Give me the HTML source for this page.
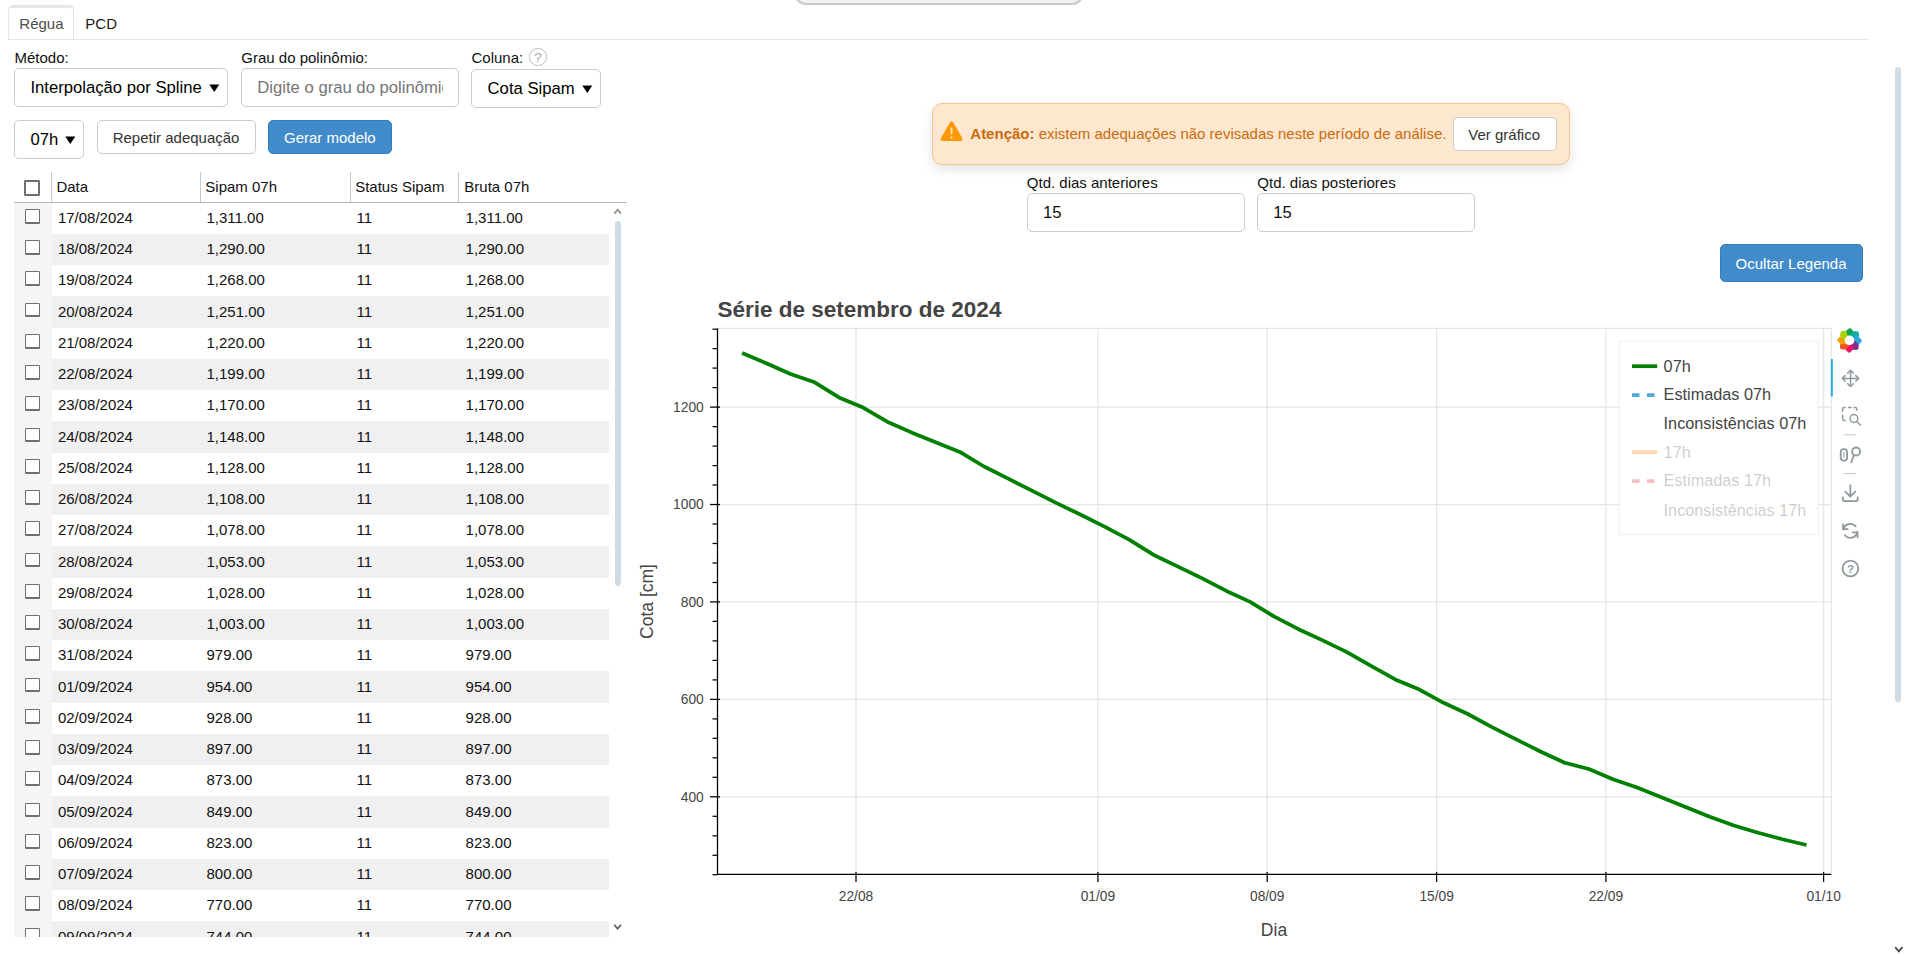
<!DOCTYPE html>
<html lang="pt-BR"><head><meta charset="utf-8"><title>Série</title>
<style>
html,body{margin:0;padding:0;background:#fff;}
body{width:1906px;height:955px;overflow:hidden;position:relative;font-family:"Liberation Sans", Arial, sans-serif;}
.t{position:absolute;white-space:nowrap;line-height:1;}
.abs{position:absolute;box-sizing:border-box;}
.box{position:absolute;box-sizing:border-box;background:#fff;border:1.25px solid #ccc;border-radius:5px;}
.cb{position:absolute;box-sizing:border-box;width:15.4px;height:14.9px;border:1.8px solid #6f6f6f;border-bottom-width:2.2px;border-radius:1.2px;background:#fff;}
svg text{font-family:"Liberation Sans", Arial, sans-serif;}
</style></head><body>

<div class="abs" style="left:793.6px;top:-20px;width:290.6px;height:25.2px;background:#f2f2f2;border:2.2px solid #c9c9cf;border-radius:12px;"></div>
<div class="abs" style="left:8px;top:38.75px;width:1861px;height:1.25px;background:#e6e6e6;"></div>
<div class="abs" style="left:8px;top:5px;width:65.8px;height:34px;border:1px solid #e6e6e6;border-top-width:3.1px;border-bottom:0;border-radius:5px 5px 0 0;background:#fff;"></div>
<div class="t" style="left:19.30px;top:15.60px;font-size:15px;color:#4d4d4d;font-weight:normal;">Régua</div>
<div class="t" style="left:85.30px;top:15.60px;font-size:15px;color:#1a1a1a;font-weight:normal;">PCD</div>
<div class="t" style="left:14.50px;top:50.30px;font-size:15px;color:#111;font-weight:normal;">Método:</div>
<div class="t" style="left:241.30px;top:50.30px;font-size:15px;color:#111;font-weight:normal;">Grau do polinômio:</div>
<div class="t" style="left:471.50px;top:50.30px;font-size:15px;color:#111;font-weight:normal;">Coluna:</div>
<div class="abs" style="left:529.2px;top:48.4px;width:17.5px;height:17.5px;border:1.9px solid #bdbdbd;border-radius:50%;"></div>
<div class="t" style="left:534.30px;top:50.87px;font-size:13.5px;color:#a8a8a8;font-weight:normal;">?</div>
<div class="box" style="left:14.2px;top:68.4px;width:213.6px;height:38.4px;"></div>
<div class="t" style="left:30.40px;top:79.99px;font-size:16.67px;color:#000;font-weight:normal;">Interpolação por Spline</div>
<svg class="abs" style="left:208.7px;top:83.8px" width="11" height="10"><path d="M0.3 0.4 L10.3 0.4 L5.3 8 Z" fill="#000"/></svg>
<div class="box" style="left:241.1px;top:68.3px;width:217.6px;height:38.4px;"></div>
<div class="abs" style="left:257px;top:72px;width:186px;height:30px;overflow:hidden;"><div class="t" style="left:0.30px;top:7.99px;font-size:16.67px;color:#757575;font-weight:normal;">Digite o grau do polinômio</div></div>
<div class="box" style="left:471.3px;top:69.4px;width:129.6px;height:38.3px;"></div>
<div class="t" style="left:487.60px;top:80.99px;font-size:16.67px;color:#000;font-weight:normal;">Cota Sipam</div>
<svg class="abs" style="left:582.2px;top:84.6px" width="11" height="10"><path d="M0.3 0.4 L10.3 0.4 L5.3 8 Z" fill="#000"/></svg>
<div class="box" style="left:14.2px;top:120.2px;width:69.4px;height:38.4px;"></div>
<div class="t" style="left:30.40px;top:131.99px;font-size:16.67px;color:#000;font-weight:normal;">07h</div>
<svg class="abs" style="left:65px;top:135.6px" width="11" height="10"><path d="M0.3 0.4 L10.3 0.4 L5.3 8 Z" fill="#000"/></svg>
<div class="box" style="left:97.3px;top:120.2px;width:158.3px;height:33.4px;"></div>
<div class="t" style="left:112.70px;top:130.30px;font-size:15px;color:#333;font-weight:normal;">Repetir adequação</div>
<div class="abs" style="left:268px;top:120px;width:123.8px;height:34px;background:#428bca;border:1.25px solid #357ebd;border-radius:5px;"></div>
<div class="t" style="left:284.00px;top:130.30px;font-size:15px;color:#fff;font-weight:normal;">Gerar modelo</div>
<div class="abs" style="left:14px;top:201.8px;width:613px;height:1.3px;background:#b9b9b9;"></div>
<div class="abs" style="left:51.2px;top:172px;width:1.25px;height:30px;background:#c8c8c8;"></div>
<div class="abs" style="left:199.8px;top:172px;width:1.25px;height:30px;background:#c8c8c8;"></div>
<div class="abs" style="left:349.9px;top:172px;width:1.25px;height:30px;background:#c8c8c8;"></div>
<div class="abs" style="left:458.2px;top:172px;width:1.25px;height:30px;background:#c8c8c8;"></div>
<div class="cb" style="left:24.2px;top:180.4px;width:15.8px;height:15.4px;border-width:2px;"></div>
<div class="t" style="left:56.40px;top:179.30px;font-size:15px;color:#111;font-weight:normal;">Data</div>
<div class="t" style="left:205.30px;top:179.30px;font-size:15px;color:#111;font-weight:normal;">Sipam 07h</div>
<div class="t" style="left:355.20px;top:179.30px;font-size:15px;color:#111;font-weight:normal;">Status Sipam</div>
<div class="t" style="left:464.30px;top:179.30px;font-size:15px;color:#111;font-weight:normal;">Bruta 07h</div>
<div class="abs" style="left:14px;top:202.7px;width:595px;height:734.3px;overflow:hidden;">
<div class="abs" style="left:0;top:0;width:37.5px;height:800px;background:#f5f5f5;"></div>
<div class="cb" style="left:11px;top:6.10px;"></div>
<div class="t" style="left:43.90px;top:7.30px;font-size:15px;color:#111;font-weight:normal;">17/08/2024</div>
<div class="t" style="left:192.50px;top:7.30px;font-size:15px;color:#111;font-weight:normal;">1,311.00</div>
<div class="t" style="left:342.50px;top:7.30px;font-size:15px;color:#111;font-weight:normal;">11</div>
<div class="t" style="left:451.60px;top:7.30px;font-size:15px;color:#111;font-weight:normal;">1,311.00</div>
<div class="abs" style="left:37.5px;top:31.25px;width:558px;height:31.25px;background:#f0f0f0;"></div>
<div class="cb" style="left:11px;top:37.35px;"></div>
<div class="t" style="left:43.90px;top:38.55px;font-size:15px;color:#111;font-weight:normal;">18/08/2024</div>
<div class="t" style="left:192.50px;top:38.55px;font-size:15px;color:#111;font-weight:normal;">1,290.00</div>
<div class="t" style="left:342.50px;top:38.55px;font-size:15px;color:#111;font-weight:normal;">11</div>
<div class="t" style="left:451.60px;top:38.55px;font-size:15px;color:#111;font-weight:normal;">1,290.00</div>
<div class="cb" style="left:11px;top:68.60px;"></div>
<div class="t" style="left:43.90px;top:69.80px;font-size:15px;color:#111;font-weight:normal;">19/08/2024</div>
<div class="t" style="left:192.50px;top:69.80px;font-size:15px;color:#111;font-weight:normal;">1,268.00</div>
<div class="t" style="left:342.50px;top:69.80px;font-size:15px;color:#111;font-weight:normal;">11</div>
<div class="t" style="left:451.60px;top:69.80px;font-size:15px;color:#111;font-weight:normal;">1,268.00</div>
<div class="abs" style="left:37.5px;top:93.75px;width:558px;height:31.25px;background:#f0f0f0;"></div>
<div class="cb" style="left:11px;top:99.85px;"></div>
<div class="t" style="left:43.90px;top:101.05px;font-size:15px;color:#111;font-weight:normal;">20/08/2024</div>
<div class="t" style="left:192.50px;top:101.05px;font-size:15px;color:#111;font-weight:normal;">1,251.00</div>
<div class="t" style="left:342.50px;top:101.05px;font-size:15px;color:#111;font-weight:normal;">11</div>
<div class="t" style="left:451.60px;top:101.05px;font-size:15px;color:#111;font-weight:normal;">1,251.00</div>
<div class="cb" style="left:11px;top:131.10px;"></div>
<div class="t" style="left:43.90px;top:132.30px;font-size:15px;color:#111;font-weight:normal;">21/08/2024</div>
<div class="t" style="left:192.50px;top:132.30px;font-size:15px;color:#111;font-weight:normal;">1,220.00</div>
<div class="t" style="left:342.50px;top:132.30px;font-size:15px;color:#111;font-weight:normal;">11</div>
<div class="t" style="left:451.60px;top:132.30px;font-size:15px;color:#111;font-weight:normal;">1,220.00</div>
<div class="abs" style="left:37.5px;top:156.25px;width:558px;height:31.25px;background:#f0f0f0;"></div>
<div class="cb" style="left:11px;top:162.35px;"></div>
<div class="t" style="left:43.90px;top:163.55px;font-size:15px;color:#111;font-weight:normal;">22/08/2024</div>
<div class="t" style="left:192.50px;top:163.55px;font-size:15px;color:#111;font-weight:normal;">1,199.00</div>
<div class="t" style="left:342.50px;top:163.55px;font-size:15px;color:#111;font-weight:normal;">11</div>
<div class="t" style="left:451.60px;top:163.55px;font-size:15px;color:#111;font-weight:normal;">1,199.00</div>
<div class="cb" style="left:11px;top:193.60px;"></div>
<div class="t" style="left:43.90px;top:194.80px;font-size:15px;color:#111;font-weight:normal;">23/08/2024</div>
<div class="t" style="left:192.50px;top:194.80px;font-size:15px;color:#111;font-weight:normal;">1,170.00</div>
<div class="t" style="left:342.50px;top:194.80px;font-size:15px;color:#111;font-weight:normal;">11</div>
<div class="t" style="left:451.60px;top:194.80px;font-size:15px;color:#111;font-weight:normal;">1,170.00</div>
<div class="abs" style="left:37.5px;top:218.75px;width:558px;height:31.25px;background:#f0f0f0;"></div>
<div class="cb" style="left:11px;top:224.85px;"></div>
<div class="t" style="left:43.90px;top:226.05px;font-size:15px;color:#111;font-weight:normal;">24/08/2024</div>
<div class="t" style="left:192.50px;top:226.05px;font-size:15px;color:#111;font-weight:normal;">1,148.00</div>
<div class="t" style="left:342.50px;top:226.05px;font-size:15px;color:#111;font-weight:normal;">11</div>
<div class="t" style="left:451.60px;top:226.05px;font-size:15px;color:#111;font-weight:normal;">1,148.00</div>
<div class="cb" style="left:11px;top:256.10px;"></div>
<div class="t" style="left:43.90px;top:257.30px;font-size:15px;color:#111;font-weight:normal;">25/08/2024</div>
<div class="t" style="left:192.50px;top:257.30px;font-size:15px;color:#111;font-weight:normal;">1,128.00</div>
<div class="t" style="left:342.50px;top:257.30px;font-size:15px;color:#111;font-weight:normal;">11</div>
<div class="t" style="left:451.60px;top:257.30px;font-size:15px;color:#111;font-weight:normal;">1,128.00</div>
<div class="abs" style="left:37.5px;top:281.25px;width:558px;height:31.25px;background:#f0f0f0;"></div>
<div class="cb" style="left:11px;top:287.35px;"></div>
<div class="t" style="left:43.90px;top:288.55px;font-size:15px;color:#111;font-weight:normal;">26/08/2024</div>
<div class="t" style="left:192.50px;top:288.55px;font-size:15px;color:#111;font-weight:normal;">1,108.00</div>
<div class="t" style="left:342.50px;top:288.55px;font-size:15px;color:#111;font-weight:normal;">11</div>
<div class="t" style="left:451.60px;top:288.55px;font-size:15px;color:#111;font-weight:normal;">1,108.00</div>
<div class="cb" style="left:11px;top:318.60px;"></div>
<div class="t" style="left:43.90px;top:319.80px;font-size:15px;color:#111;font-weight:normal;">27/08/2024</div>
<div class="t" style="left:192.50px;top:319.80px;font-size:15px;color:#111;font-weight:normal;">1,078.00</div>
<div class="t" style="left:342.50px;top:319.80px;font-size:15px;color:#111;font-weight:normal;">11</div>
<div class="t" style="left:451.60px;top:319.80px;font-size:15px;color:#111;font-weight:normal;">1,078.00</div>
<div class="abs" style="left:37.5px;top:343.75px;width:558px;height:31.25px;background:#f0f0f0;"></div>
<div class="cb" style="left:11px;top:349.85px;"></div>
<div class="t" style="left:43.90px;top:351.05px;font-size:15px;color:#111;font-weight:normal;">28/08/2024</div>
<div class="t" style="left:192.50px;top:351.05px;font-size:15px;color:#111;font-weight:normal;">1,053.00</div>
<div class="t" style="left:342.50px;top:351.05px;font-size:15px;color:#111;font-weight:normal;">11</div>
<div class="t" style="left:451.60px;top:351.05px;font-size:15px;color:#111;font-weight:normal;">1,053.00</div>
<div class="cb" style="left:11px;top:381.10px;"></div>
<div class="t" style="left:43.90px;top:382.30px;font-size:15px;color:#111;font-weight:normal;">29/08/2024</div>
<div class="t" style="left:192.50px;top:382.30px;font-size:15px;color:#111;font-weight:normal;">1,028.00</div>
<div class="t" style="left:342.50px;top:382.30px;font-size:15px;color:#111;font-weight:normal;">11</div>
<div class="t" style="left:451.60px;top:382.30px;font-size:15px;color:#111;font-weight:normal;">1,028.00</div>
<div class="abs" style="left:37.5px;top:406.25px;width:558px;height:31.25px;background:#f0f0f0;"></div>
<div class="cb" style="left:11px;top:412.35px;"></div>
<div class="t" style="left:43.90px;top:413.55px;font-size:15px;color:#111;font-weight:normal;">30/08/2024</div>
<div class="t" style="left:192.50px;top:413.55px;font-size:15px;color:#111;font-weight:normal;">1,003.00</div>
<div class="t" style="left:342.50px;top:413.55px;font-size:15px;color:#111;font-weight:normal;">11</div>
<div class="t" style="left:451.60px;top:413.55px;font-size:15px;color:#111;font-weight:normal;">1,003.00</div>
<div class="cb" style="left:11px;top:443.60px;"></div>
<div class="t" style="left:43.90px;top:444.80px;font-size:15px;color:#111;font-weight:normal;">31/08/2024</div>
<div class="t" style="left:192.50px;top:444.80px;font-size:15px;color:#111;font-weight:normal;">979.00</div>
<div class="t" style="left:342.50px;top:444.80px;font-size:15px;color:#111;font-weight:normal;">11</div>
<div class="t" style="left:451.60px;top:444.80px;font-size:15px;color:#111;font-weight:normal;">979.00</div>
<div class="abs" style="left:37.5px;top:468.75px;width:558px;height:31.25px;background:#f0f0f0;"></div>
<div class="cb" style="left:11px;top:474.85px;"></div>
<div class="t" style="left:43.90px;top:476.05px;font-size:15px;color:#111;font-weight:normal;">01/09/2024</div>
<div class="t" style="left:192.50px;top:476.05px;font-size:15px;color:#111;font-weight:normal;">954.00</div>
<div class="t" style="left:342.50px;top:476.05px;font-size:15px;color:#111;font-weight:normal;">11</div>
<div class="t" style="left:451.60px;top:476.05px;font-size:15px;color:#111;font-weight:normal;">954.00</div>
<div class="cb" style="left:11px;top:506.10px;"></div>
<div class="t" style="left:43.90px;top:507.30px;font-size:15px;color:#111;font-weight:normal;">02/09/2024</div>
<div class="t" style="left:192.50px;top:507.30px;font-size:15px;color:#111;font-weight:normal;">928.00</div>
<div class="t" style="left:342.50px;top:507.30px;font-size:15px;color:#111;font-weight:normal;">11</div>
<div class="t" style="left:451.60px;top:507.30px;font-size:15px;color:#111;font-weight:normal;">928.00</div>
<div class="abs" style="left:37.5px;top:531.25px;width:558px;height:31.25px;background:#f0f0f0;"></div>
<div class="cb" style="left:11px;top:537.35px;"></div>
<div class="t" style="left:43.90px;top:538.55px;font-size:15px;color:#111;font-weight:normal;">03/09/2024</div>
<div class="t" style="left:192.50px;top:538.55px;font-size:15px;color:#111;font-weight:normal;">897.00</div>
<div class="t" style="left:342.50px;top:538.55px;font-size:15px;color:#111;font-weight:normal;">11</div>
<div class="t" style="left:451.60px;top:538.55px;font-size:15px;color:#111;font-weight:normal;">897.00</div>
<div class="cb" style="left:11px;top:568.60px;"></div>
<div class="t" style="left:43.90px;top:569.80px;font-size:15px;color:#111;font-weight:normal;">04/09/2024</div>
<div class="t" style="left:192.50px;top:569.80px;font-size:15px;color:#111;font-weight:normal;">873.00</div>
<div class="t" style="left:342.50px;top:569.80px;font-size:15px;color:#111;font-weight:normal;">11</div>
<div class="t" style="left:451.60px;top:569.80px;font-size:15px;color:#111;font-weight:normal;">873.00</div>
<div class="abs" style="left:37.5px;top:593.75px;width:558px;height:31.25px;background:#f0f0f0;"></div>
<div class="cb" style="left:11px;top:599.85px;"></div>
<div class="t" style="left:43.90px;top:601.05px;font-size:15px;color:#111;font-weight:normal;">05/09/2024</div>
<div class="t" style="left:192.50px;top:601.05px;font-size:15px;color:#111;font-weight:normal;">849.00</div>
<div class="t" style="left:342.50px;top:601.05px;font-size:15px;color:#111;font-weight:normal;">11</div>
<div class="t" style="left:451.60px;top:601.05px;font-size:15px;color:#111;font-weight:normal;">849.00</div>
<div class="cb" style="left:11px;top:631.10px;"></div>
<div class="t" style="left:43.90px;top:632.30px;font-size:15px;color:#111;font-weight:normal;">06/09/2024</div>
<div class="t" style="left:192.50px;top:632.30px;font-size:15px;color:#111;font-weight:normal;">823.00</div>
<div class="t" style="left:342.50px;top:632.30px;font-size:15px;color:#111;font-weight:normal;">11</div>
<div class="t" style="left:451.60px;top:632.30px;font-size:15px;color:#111;font-weight:normal;">823.00</div>
<div class="abs" style="left:37.5px;top:656.25px;width:558px;height:31.25px;background:#f0f0f0;"></div>
<div class="cb" style="left:11px;top:662.35px;"></div>
<div class="t" style="left:43.90px;top:663.55px;font-size:15px;color:#111;font-weight:normal;">07/09/2024</div>
<div class="t" style="left:192.50px;top:663.55px;font-size:15px;color:#111;font-weight:normal;">800.00</div>
<div class="t" style="left:342.50px;top:663.55px;font-size:15px;color:#111;font-weight:normal;">11</div>
<div class="t" style="left:451.60px;top:663.55px;font-size:15px;color:#111;font-weight:normal;">800.00</div>
<div class="cb" style="left:11px;top:693.60px;"></div>
<div class="t" style="left:43.90px;top:694.80px;font-size:15px;color:#111;font-weight:normal;">08/09/2024</div>
<div class="t" style="left:192.50px;top:694.80px;font-size:15px;color:#111;font-weight:normal;">770.00</div>
<div class="t" style="left:342.50px;top:694.80px;font-size:15px;color:#111;font-weight:normal;">11</div>
<div class="t" style="left:451.60px;top:694.80px;font-size:15px;color:#111;font-weight:normal;">770.00</div>
<div class="abs" style="left:37.5px;top:718.75px;width:558px;height:31.25px;background:#f0f0f0;"></div>
<div class="cb" style="left:11px;top:724.85px;"></div>
<div class="t" style="left:43.90px;top:726.05px;font-size:15px;color:#111;font-weight:normal;">09/09/2024</div>
<div class="t" style="left:192.50px;top:726.05px;font-size:15px;color:#111;font-weight:normal;">744.00</div>
<div class="t" style="left:342.50px;top:726.05px;font-size:15px;color:#111;font-weight:normal;">11</div>
<div class="t" style="left:451.60px;top:726.05px;font-size:15px;color:#111;font-weight:normal;">744.00</div>
<div class="cb" style="left:11px;top:756.10px;"></div>
<div class="t" style="left:43.90px;top:757.30px;font-size:15px;color:#111;font-weight:normal;">10/09/2024</div>
<div class="t" style="left:192.50px;top:757.30px;font-size:15px;color:#111;font-weight:normal;">721.00</div>
<div class="t" style="left:342.50px;top:757.30px;font-size:15px;color:#111;font-weight:normal;">11</div>
<div class="t" style="left:451.60px;top:757.30px;font-size:15px;color:#111;font-weight:normal;">721.00</div>
</div>
<svg class="abs" style="left:612px;top:206px" width="12" height="10"><path d="M2.2 7.6 L5.6 3.6 L9 7.6" fill="none" stroke="#9a9a9a" stroke-width="1.9"/></svg>
<svg class="abs" style="left:612px;top:922px" width="12" height="10"><path d="M2.2 2.8 L5.6 6.8 L9 2.8" fill="none" stroke="#555" stroke-width="1.6"/></svg>
<div class="abs" style="left:615px;top:221px;width:5.9px;height:365px;background:#d0dbe5;border-radius:3px;"></div>
<div class="abs" style="left:932px;top:102.8px;width:637.8px;height:62.4px;background:#fde8cf;border:1.25px solid #f9c590;border-radius:10px;box-shadow:0 4px 12px rgba(0,0,0,0.12);"></div>
<svg class="abs" style="left:938px;top:119px" width="28" height="25" viewBox="0 0 28 25"><path d="M13.55 4.2 L22.7 20.2 L4.4 20.2 Z" fill="#ff9800" stroke="#ff9800" stroke-width="3.6" stroke-linejoin="round"/><rect x="12.7" y="8.6" width="1.7" height="7" rx="0.8" fill="#fde8cf"/><circle cx="13.55" cy="18.4" r="1.05" fill="#fde8cf"/></svg>
<div class="t" style="left:970.30px;top:125.70px;font-size:15px;color:#cb6a0c;font-weight:normal;letter-spacing:0px;"><b>Atenção:</b> existem adequações não revisadas neste período de análise.</div>
<div class="box" style="left:1453.2px;top:117.3px;width:103.7px;height:33.3px;"></div>
<div class="t" style="left:1468.30px;top:127.10px;font-size:15px;color:#333;font-weight:normal;">Ver gráfico</div>
<div class="t" style="left:1026.80px;top:175.10px;font-size:15px;color:#111;font-weight:normal;">Qtd. dias anteriores</div>
<div class="t" style="left:1257.30px;top:175.10px;font-size:15px;color:#111;font-weight:normal;">Qtd. dias posteriores</div>
<div class="box" style="left:1027px;top:193.1px;width:217.7px;height:38.7px;"></div>
<div class="box" style="left:1257.3px;top:193.1px;width:217.5px;height:38.7px;"></div>
<div class="t" style="left:1043.00px;top:204.79px;font-size:16.67px;color:#111;font-weight:normal;">15</div>
<div class="t" style="left:1273.20px;top:204.79px;font-size:16.67px;color:#111;font-weight:normal;">15</div>
<div class="abs" style="left:1720px;top:243.8px;width:143px;height:38px;background:#428bca;border:1.25px solid #357ebd;border-radius:5px;"></div>
<div class="t" style="left:1735.60px;top:256.30px;font-size:15px;color:#fff;font-weight:normal;">Ocultar Legenda</div>
<div class="abs" style="left:1895.2px;top:67px;width:5.8px;height:634.8px;background:#d0dbe5;border-radius:3px;"></div>
<svg class="abs" style="left:1892.8px;top:944.2px" width="12" height="10"><path d="M2.2 3.2 L5.8 7.3 L9.4 3.2" fill="none" stroke="#4a4a4a" stroke-width="1.8"/></svg>
<svg class="abs" style="left:0;top:290px" width="1906" height="665" viewBox="0 290 1906 665">
<rect x="717.5" y="328.4" width="1113.7" height="546.0500000000001" fill="#fff" stroke="#e5e5e5" stroke-width="1.25"/>
<line x1="856.0" y1="328.4" x2="856.0" y2="874.45" stroke="#e5e5e5" stroke-width="1.25"/>
<line x1="1097.9" y1="328.4" x2="1097.9" y2="874.45" stroke="#e5e5e5" stroke-width="1.25"/>
<line x1="1267.2" y1="328.4" x2="1267.2" y2="874.45" stroke="#e5e5e5" stroke-width="1.25"/>
<line x1="1436.6" y1="328.4" x2="1436.6" y2="874.45" stroke="#e5e5e5" stroke-width="1.25"/>
<line x1="1605.9" y1="328.4" x2="1605.9" y2="874.45" stroke="#e5e5e5" stroke-width="1.25"/>
<line x1="1823.6" y1="328.4" x2="1823.6" y2="874.45" stroke="#e5e5e5" stroke-width="1.25"/>
<line x1="717.5" y1="796.8" x2="1831.2" y2="796.8" stroke="#e5e5e5" stroke-width="1.25"/>
<line x1="717.5" y1="699.4" x2="1831.2" y2="699.4" stroke="#e5e5e5" stroke-width="1.25"/>
<line x1="717.5" y1="601.9" x2="1831.2" y2="601.9" stroke="#e5e5e5" stroke-width="1.25"/>
<line x1="717.5" y1="504.5" x2="1831.2" y2="504.5" stroke="#e5e5e5" stroke-width="1.25"/>
<line x1="717.5" y1="407.1" x2="1831.2" y2="407.1" stroke="#e5e5e5" stroke-width="1.25"/>
<polyline points="742.1,353.0 766.3,363.3 790.5,374.0 814.7,382.3 838.9,397.4 863.1,407.6 887.2,421.7 911.4,432.4 935.6,442.2 959.8,451.9 984.0,466.5 1008.2,478.7 1032.4,490.9 1056.6,503.1 1080.8,514.8 1105.0,526.9 1129.1,539.6 1153.3,554.7 1177.5,566.4 1201.7,578.1 1225.9,590.7 1250.1,601.9 1274.3,616.6 1298.5,629.2 1322.7,640.4 1346.9,652.1 1371.0,665.8 1395.2,679.4 1419.4,689.6 1443.6,702.8 1467.8,714.0 1492.0,727.1 1516.2,739.3 1540.4,751.5 1564.6,762.7 1588.8,769.0 1612.9,779.3 1637.1,787.5 1661.3,797.3 1685.5,807.0 1709.7,816.8 1733.9,825.5 1758.1,832.8 1782.3,839.2 1806.5,845.0" fill="none" stroke="#008000" stroke-width="3.75" stroke-linejoin="bevel"/>
<line x1="717.5" y1="328.4" x2="717.5" y2="875.0500000000001" stroke="#000" stroke-width="1.25"/>
<line x1="716.9" y1="874.45" x2="1831.2" y2="874.45" stroke="#000" stroke-width="1.25"/>
<line x1="712.5" y1="874.7" x2="717.5" y2="874.7" stroke="#000" stroke-width="1.25"/>
<line x1="712.5" y1="855.3" x2="717.5" y2="855.3" stroke="#000" stroke-width="1.25"/>
<line x1="712.5" y1="835.8" x2="717.5" y2="835.8" stroke="#000" stroke-width="1.25"/>
<line x1="712.5" y1="816.3" x2="717.5" y2="816.3" stroke="#000" stroke-width="1.25"/>
<line x1="710.0" y1="796.8" x2="720.0" y2="796.8" stroke="#000" stroke-width="1.25"/>
<text x="703.7" y="801.7" font-size="13.75" fill="#444" text-anchor="end">400</text>
<line x1="712.5" y1="777.3" x2="717.5" y2="777.3" stroke="#000" stroke-width="1.25"/>
<line x1="712.5" y1="757.8" x2="717.5" y2="757.8" stroke="#000" stroke-width="1.25"/>
<line x1="712.5" y1="738.3" x2="717.5" y2="738.3" stroke="#000" stroke-width="1.25"/>
<line x1="712.5" y1="718.9" x2="717.5" y2="718.9" stroke="#000" stroke-width="1.25"/>
<line x1="710.0" y1="699.4" x2="720.0" y2="699.4" stroke="#000" stroke-width="1.25"/>
<text x="703.7" y="704.3" font-size="13.75" fill="#444" text-anchor="end">600</text>
<line x1="712.5" y1="679.9" x2="717.5" y2="679.9" stroke="#000" stroke-width="1.25"/>
<line x1="712.5" y1="660.4" x2="717.5" y2="660.4" stroke="#000" stroke-width="1.25"/>
<line x1="712.5" y1="640.9" x2="717.5" y2="640.9" stroke="#000" stroke-width="1.25"/>
<line x1="712.5" y1="621.4" x2="717.5" y2="621.4" stroke="#000" stroke-width="1.25"/>
<line x1="710.0" y1="601.9" x2="720.0" y2="601.9" stroke="#000" stroke-width="1.25"/>
<text x="703.7" y="606.8" font-size="13.75" fill="#444" text-anchor="end">800</text>
<line x1="712.5" y1="582.5" x2="717.5" y2="582.5" stroke="#000" stroke-width="1.25"/>
<line x1="712.5" y1="563.0" x2="717.5" y2="563.0" stroke="#000" stroke-width="1.25"/>
<line x1="712.5" y1="543.5" x2="717.5" y2="543.5" stroke="#000" stroke-width="1.25"/>
<line x1="712.5" y1="524.0" x2="717.5" y2="524.0" stroke="#000" stroke-width="1.25"/>
<line x1="710.0" y1="504.5" x2="720.0" y2="504.5" stroke="#000" stroke-width="1.25"/>
<text x="703.7" y="509.4" font-size="13.75" fill="#444" text-anchor="end">1000</text>
<line x1="712.5" y1="485.0" x2="717.5" y2="485.0" stroke="#000" stroke-width="1.25"/>
<line x1="712.5" y1="465.6" x2="717.5" y2="465.6" stroke="#000" stroke-width="1.25"/>
<line x1="712.5" y1="446.1" x2="717.5" y2="446.1" stroke="#000" stroke-width="1.25"/>
<line x1="712.5" y1="426.6" x2="717.5" y2="426.6" stroke="#000" stroke-width="1.25"/>
<line x1="710.0" y1="407.1" x2="720.0" y2="407.1" stroke="#000" stroke-width="1.25"/>
<text x="703.7" y="412.0" font-size="13.75" fill="#444" text-anchor="end">1200</text>
<line x1="712.5" y1="387.6" x2="717.5" y2="387.6" stroke="#000" stroke-width="1.25"/>
<line x1="712.5" y1="368.1" x2="717.5" y2="368.1" stroke="#000" stroke-width="1.25"/>
<line x1="712.5" y1="348.6" x2="717.5" y2="348.6" stroke="#000" stroke-width="1.25"/>
<line x1="712.5" y1="329.2" x2="717.5" y2="329.2" stroke="#000" stroke-width="1.25"/>
<line x1="856.0" y1="871.95" x2="856.0" y2="881.95" stroke="#000" stroke-width="1.25"/>
<text x="856.0" y="900.9" font-size="13.75" fill="#444" text-anchor="middle">22/08</text>
<line x1="1097.9" y1="871.95" x2="1097.9" y2="881.95" stroke="#000" stroke-width="1.25"/>
<text x="1097.9" y="900.9" font-size="13.75" fill="#444" text-anchor="middle">01/09</text>
<line x1="1267.2" y1="871.95" x2="1267.2" y2="881.95" stroke="#000" stroke-width="1.25"/>
<text x="1267.2" y="900.9" font-size="13.75" fill="#444" text-anchor="middle">08/09</text>
<line x1="1436.6" y1="871.95" x2="1436.6" y2="881.95" stroke="#000" stroke-width="1.25"/>
<text x="1436.6" y="900.9" font-size="13.75" fill="#444" text-anchor="middle">15/09</text>
<line x1="1605.9" y1="871.95" x2="1605.9" y2="881.95" stroke="#000" stroke-width="1.25"/>
<text x="1605.9" y="900.9" font-size="13.75" fill="#444" text-anchor="middle">22/09</text>
<line x1="1823.6" y1="871.95" x2="1823.6" y2="881.95" stroke="#000" stroke-width="1.25"/>
<text x="1823.6" y="900.9" font-size="13.75" fill="#444" text-anchor="middle">01/10</text>
<text x="1274" y="936" font-size="17.5" fill="#444" text-anchor="middle">Dia</text>
<text transform="translate(652.8,601.5) rotate(-90)" font-size="17.5" fill="#444" text-anchor="middle">Cota [cm]</text>
<text x="717.5" y="316.5" font-size="22.5" font-weight="bold" fill="#444">Série de setembro de 2024</text>
<rect x="1619.4" y="341" width="199" height="193.6" fill="#fff" fill-opacity="0.95" stroke="#e5e5e5" stroke-opacity="0.5" stroke-width="1.25"/>
<text x="1663.6" y="371.6" font-size="16.25" fill="#444" fill-opacity="1">07h</text>
<text x="1663.6" y="400.4" font-size="16.25" fill="#444" fill-opacity="1">Estimadas 07h</text>
<text x="1663.6" y="428.8" font-size="16.25" fill="#444" fill-opacity="1">Inconsistências 07h</text>
<text x="1663.6" y="457.6" font-size="16.25" fill="#444" fill-opacity="0.28">17h</text>
<text x="1663.6" y="486.4" font-size="16.25" fill="#444" fill-opacity="0.28">Estimadas 17h</text>
<text x="1663.6" y="515.6" font-size="16.25" fill="#444" fill-opacity="0.28">Inconsistências 17h</text>
<line x1="1632" y1="366.2" x2="1657.2" y2="366.2" stroke="#008000" stroke-width="3.75"/>
<line x1="1632" y1="395" x2="1657.2" y2="395" stroke="#4fa8dc" stroke-width="3.75" stroke-dasharray="7.5 7.5"/>
<line x1="1632" y1="452.2" x2="1657.2" y2="452.2" stroke="#ffa64d" stroke-opacity="0.45" stroke-width="3.75"/>
<line x1="1632" y1="481" x2="1657.2" y2="481" stroke="#f08080" stroke-opacity="0.5" stroke-width="3.75" stroke-dasharray="7.5 7.5"/>
</svg>
<svg class="abs" style="left:1826px;top:320px" width="50" height="270" viewBox="1826 320 50 270">
<polygon transform="translate(1849.5,340.4) rotate(0)" points="-3.2,-9.3 0.3,-12.1 3.5,-9.5 1.9,-4.6 -3.2,-3.9" fill="#0aa64f" stroke="#0aa64f" stroke-width="0.9" stroke-linejoin="round"/>
<polygon transform="translate(1849.5,340.4) rotate(45)" points="-3.2,-9.3 0.3,-12.1 3.5,-9.5 1.9,-4.6 -3.2,-3.9" fill="#14aaa6" stroke="#14aaa6" stroke-width="0.9" stroke-linejoin="round"/>
<polygon transform="translate(1849.5,340.4) rotate(90)" points="-3.2,-9.3 0.3,-12.1 3.5,-9.5 1.9,-4.6 -3.2,-3.9" fill="#27a6e0" stroke="#27a6e0" stroke-width="0.9" stroke-linejoin="round"/>
<polygon transform="translate(1849.5,340.4) rotate(135)" points="-3.2,-9.3 0.3,-12.1 3.5,-9.5 1.9,-4.6 -3.2,-3.9" fill="#7f2d91" stroke="#7f2d91" stroke-width="0.9" stroke-linejoin="round"/>
<polygon transform="translate(1849.5,340.4) rotate(180)" points="-3.2,-9.3 0.3,-12.1 3.5,-9.5 1.9,-4.6 -3.2,-3.9" fill="#ec1163" stroke="#ec1163" stroke-width="0.9" stroke-linejoin="round"/>
<polygon transform="translate(1849.5,340.4) rotate(225)" points="-3.2,-9.3 0.3,-12.1 3.5,-9.5 1.9,-4.6 -3.2,-3.9" fill="#f0531f" stroke="#f0531f" stroke-width="0.9" stroke-linejoin="round"/>
<polygon transform="translate(1849.5,340.4) rotate(270)" points="-3.2,-9.3 0.3,-12.1 3.5,-9.5 1.9,-4.6 -3.2,-3.9" fill="#f7a00f" stroke="#f7a00f" stroke-width="0.9" stroke-linejoin="round"/>
<polygon transform="translate(1849.5,340.4) rotate(315)" points="-3.2,-9.3 0.3,-12.1 3.5,-9.5 1.9,-4.6 -3.2,-3.9" fill="#a8d200" stroke="#a8d200" stroke-width="0.9" stroke-linejoin="round"/>
<circle cx="1849.5" cy="340.4" r="4.8" fill="#fff"/>
<rect x="1830.9" y="359" width="1.9" height="37.5" fill="#26aae1"/>
<g stroke="#8f999d" stroke-width="1.5" fill="none" stroke-linecap="round" stroke-linejoin="round"><path d="M1842.6 378.4 H1858.4 M1850.5 370.5 V386.29999999999995"/><path d="M1845.2 375.59999999999997 L1842.4 378.4 L1845.2 381.2 M1855.8 375.59999999999997 L1858.6 378.4 L1855.8 381.2 M1847.7 373.09999999999997 L1850.5 370.29999999999995 L1853.3 373.09999999999997 M1847.7 383.7 L1850.5 386.5 L1853.3 383.7"/></g>
<g stroke="#8f999d" stroke-width="1.5" fill="none" stroke-linecap="round"><path d="M1842.6 411.20000000000005 V409.1 Q1842.6 407.6 1844.1 407.6 H1845.1999999999998 M1848.6 407.6 H1851.1 M1854.1999999999998 407.6 H1855.1999999999998 Q1856.8 407.6 1856.8 409.1 V410.20000000000005 M1842.6 415.20000000000005 V419.0 Q1842.6 420.40000000000003 1844.1 420.40000000000003 H1845.1999999999998"/><circle cx="1853.8999999999999" cy="418.5" r="3.9"/><path d="M1856.8 421.5 L1860.1999999999998 425.0"/></g>
<rect x="1843.4" y="434.2" width="12.6" height="1.1" fill="#c9ced0"/>
<g stroke="#8f999d" stroke-width="1.8" fill="none" stroke-linecap="round"><rect x="1840.7" y="449.2" width="6.4" height="11.6" rx="3.2"/><path d="M1843.9 452.6 V457.4" stroke-width="1"/><circle cx="1856.1" cy="451.5" r="4"/><path d="M1853.9 455.2 L1851.3 462.1"/></g>
<rect x="1843.4" y="473" width="12.6" height="1.1" fill="#c9ced0"/>
<g stroke="#8f999d" stroke-width="1.8" fill="none" stroke-linecap="round" stroke-linejoin="round"><path d="M1850.3 485.2 V496.4 M1845.3 491.59999999999997 L1850.3 496.59999999999997 L1855.3 491.59999999999997"/><path d="M1842.8999999999999 497.4 V499.59999999999997 Q1842.8999999999999 501.2 1844.5 501.2 H1856.1 Q1857.7 501.2 1857.7 499.59999999999997 V497.4"/></g>
<g stroke="#8f999d" stroke-width="1.8" fill="none" stroke-linecap="round" stroke-linejoin="round"><path d="M1843.3999999999999 529.5999999999999 A7 7 0 0 1 1855.7 526.4 M1857.2 532.0 A7 7 0 0 1 1844.8999999999999 535.1999999999999"/><path d="M1843.1 524.4 V529.1999999999999 H1847.7 M1857.5 537.1999999999999 V532.4 H1852.8999999999999"/></g>
<circle cx="1850.4" cy="568.5" r="7.9" fill="none" stroke="#8f999d" stroke-width="1.8"/>
<text x="1850.4" y="572.8" font-size="11.5" fill="#8f999d" text-anchor="middle" font-weight="bold">?</text>
</svg>
</body></html>
